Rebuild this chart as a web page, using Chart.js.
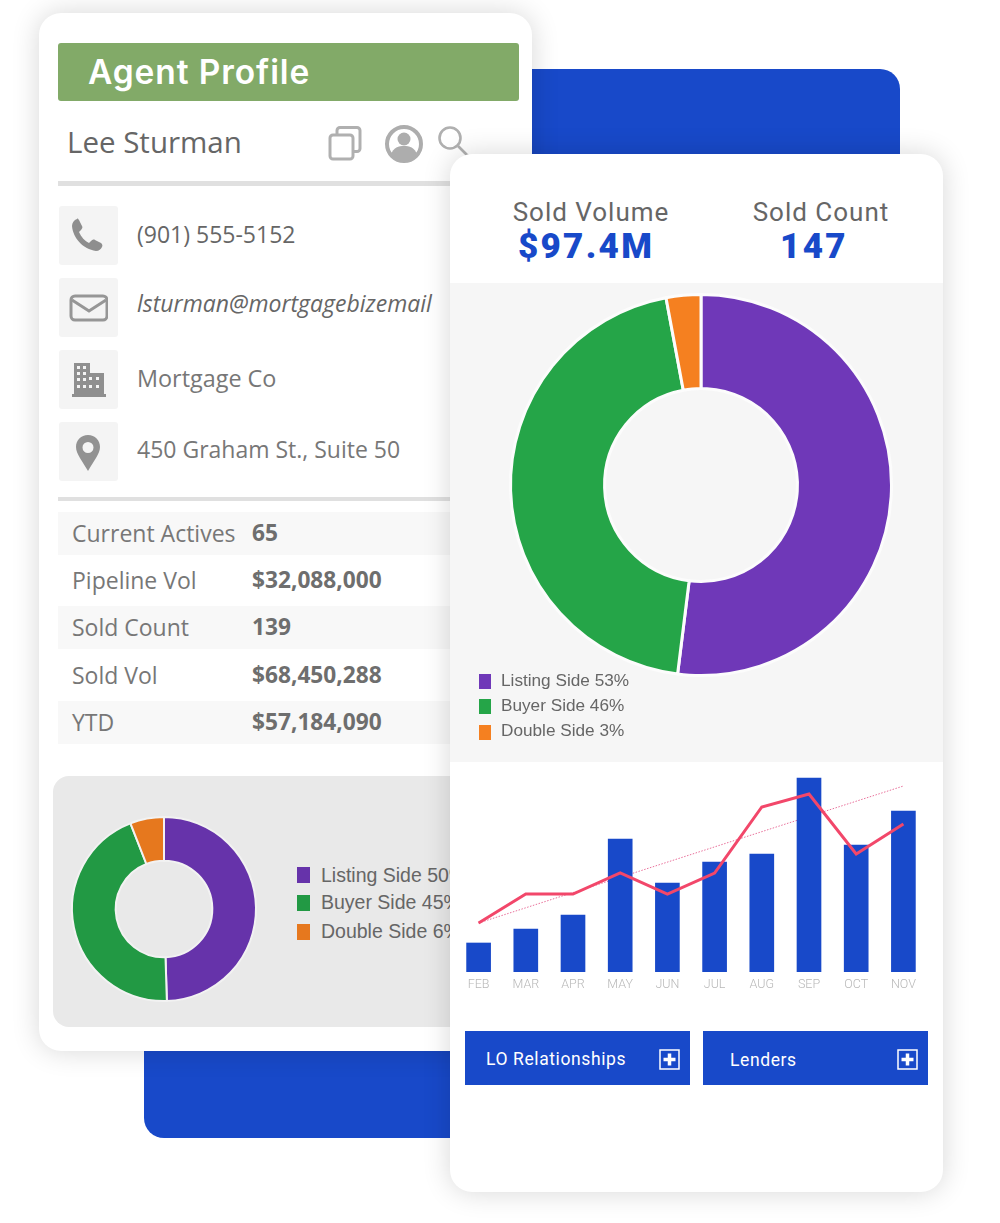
<!DOCTYPE html>
<html>
<head>
<meta charset="utf-8">
<title>Agent Profile</title>
<script src="https://cdn.jsdelivr.net/npm/chart.js@4"></script>
<style>
  html, body { margin: 0; padding: 0; background: #fff; }
  body { position: relative; width: 1000px; height: 1223px; overflow: hidden; color: #666; font-family: "Open Sans", sans-serif; }
  .abs { position: absolute; }
  .txt { position: absolute; white-space: nowrap; line-height: 1; }
  .card { position: absolute; width: 493px; height: 1038px; background: #fff; border-radius: 22px; box-shadow: 0 0 28px rgba(0,0,0,.16); overflow: hidden; }
  .tile { position: absolute; left: 20px; width: 59px; height: 59px; background: #f4f4f4; border-radius: 3px; }
  .tile svg { position: absolute; left: 10px; top: 10px; }
  .rule { position: absolute; left: 19px; width: 420px; background: #e0e0e0; }
  .row { position: absolute; left: 19px; width: 420px; height: 43px; }
  .key { position: absolute; white-space: nowrap; line-height: 1; left: 33px; font-size: 23px; color: #777; }
  .val { position: absolute; white-space: nowrap; line-height: 1; left: 213px; font-size: 22.700px; font-weight: 700; color: #6e6e6e; }
  .swatch { position: absolute; }
  .leg { position: absolute; white-space: nowrap; line-height: 1; font-family: "Liberation Sans", Arial, sans-serif; color: #666; }
  .head { position: absolute; white-space: nowrap; line-height: 1; font-family: Roboto, sans-serif; text-align: center; transform: translateX(-50%); }
  .btn { position: absolute; top: 877px; height: 54px; width: 225px; background: #1849c9; color: #fff; font-family: Roboto, sans-serif; font-size: 17.500px; letter-spacing: .6px; }
  .btn span { position: absolute; line-height: 1; white-space: nowrap; }
  .btn svg { position: absolute; left: 194px; top: 18px; }
  canvas { position: absolute; display: block; }
</style>
</head>
<body>

<div class="abs" style="left:144px;top:69px;width:756px;height:1069px;background:#1849c9;border-radius:20px"></div>

<!-- left card -->
<div class="card" id="leftCard" style="left:39px;top:13px">
  <div class="abs" style="left:19px;top:30px;width:461px;height:58px;background:#82aa68;border-radius:3px"></div>
  <div class="txt" style="left:49px;top:43px;font-family:Inter,sans-serif;font-weight:600;font-size:33.500px;color:#fff;letter-spacing:.9px">Agent Profile</div>
  <div class="txt" style="left:28px;top:114px;font-size:29.500px;color:#666">Lee Sturman</div>

  <svg class="abs" style="left:288px;top:112px" width="36" height="36" viewBox="0 0 36 36" fill="none" stroke="#b0b0b0" stroke-width="3">
    <rect x="10" y="2.5" width="23" height="24" rx="3"/>
    <rect x="3" y="10" width="23" height="24" rx="3" fill="#fff"/>
  </svg>
  <svg class="abs" style="left:345px;top:111px" width="40" height="40" viewBox="0 0 40 40">
    <circle cx="20" cy="20" r="17" fill="#fff" stroke="#adadad" stroke-width="4"/>
    <circle cx="20" cy="15" r="6.5" fill="#adadad"/>
    <path d="M7 31c2-8 8-9 13-9s11 1 13 9c-3 4-8 6-13 6s-10-2-13-6z" fill="#adadad"/>
  </svg>
  <svg class="abs" style="left:398px;top:112px" width="34" height="34" viewBox="0 0 34 34" fill="none" stroke="#b0b0b0" stroke-width="2.6">
    <circle cx="13" cy="13" r="10.5"/>
    <path d="M21 21l10 10"/>
  </svg>

  <div class="rule" style="top:168px;height:5px"></div>

  <div class="tile" style="top:193px"><svg width="39" height="39" viewBox="0 0 39 39"><path d="M8 3c-3 1-5 4-5 7 1 12 11 23 24 25 3 0 5-2 6-4 1-2 0-3-1-4l-6-3c-1-1-3 0-4 1l-2 2c-4-2-8-6-10-11l2-2c1-1 2-3 1-4l-3-6c-1-1-1-2-2-1z" fill="#8e8e8e"/></svg></div>
  <div class="tile" style="top:265px"><svg width="39" height="39" viewBox="0 0 39 39" fill="none" stroke="#969696" stroke-width="3"><rect x="2" y="8" width="36" height="24" rx="4"/><path d="M3 12l17 11 17-11"/></svg></div>
  <div class="tile" style="top:337px"><svg width="39" height="39" viewBox="0 0 39 39"><path d="M5 3h16v10h14v21h2v3H3v-3h2z" fill="#8f8f8f"/><g fill="#f4f4f4"><rect x="8" y="6" width="3" height="3"/><rect x="14" y="6" width="3" height="3"/><rect x="8" y="12" width="3" height="3"/><rect x="14" y="12" width="3" height="3"/><rect x="20" y="17" width="3" height="3"/><rect x="27" y="17" width="3" height="3"/><rect x="8" y="18" width="3" height="3"/><rect x="14" y="18" width="3" height="3"/><rect x="8" y="25" width="3" height="3"/><rect x="14" y="25" width="3" height="3"/><rect x="20" y="25" width="3" height="3"/><rect x="27" y="25" width="3" height="3"/></g></svg></div>
  <div class="tile" style="top:409px"><svg width="39" height="39" viewBox="0 0 39 39"><path fill-rule="evenodd" d="M19 3c7 0 12 5 12 12 0 7-7 15-12 24C14 30 7 22 7 15 7 8 12 3 19 3zm0 7a5.500 5.500 0 1 0 0 11 5.500 5.500 0 0 0 0-11z" fill="#929292"/></svg></div>

  <div class="txt" style="left:98px;top:210px;font-size:23px;color:#666">(901) 555-5152</div>
  <div class="txt" style="left:98px;top:279px;font-size:23px;color:#666;font-style:italic">lsturman@mortgagebizemail</div>
  <div class="txt" style="left:98px;top:354px;font-size:23.400px;color:#777">Mortgage Co</div>
  <div class="txt" style="left:98px;top:425px;font-size:23px;color:#777">450 Graham St., Suite 50</div>

  <div class="rule" style="top:484px;height:4px"></div>

  <div id="agentRows"></div>

  <div class="abs" style="left:14px;top:763px;width:470px;height:251px;background:#e9e9e9;border-radius:16px"></div>
  <canvas id="agentDonut" width="200" height="200" style="left:24.500px;top:795.500px"></canvas>
  <div id="agentLegend"></div>
</div>

<!-- right card -->
<div class="card" id="rightCard" style="left:450px;top:154px">
  <div class="head" style="left:141px;top:45px;font-size:26px;letter-spacing:1px;color:#666">Sold Volume</div>
  <div class="head" style="left:136px;top:75px;font-size:35px;font-weight:900;letter-spacing:2.300px;color:#1849c9">$97.4M</div>
  <div class="head" style="left:371px;top:45px;font-size:26px;letter-spacing:1px;color:#666">Sold Count</div>
  <div class="head" style="left:364px;top:75px;font-size:35px;font-weight:900;letter-spacing:2.300px;color:#1849c9">147</div>

  <div class="abs" style="left:0;top:129px;width:493px;height:479px;background:#f6f6f6"></div>
  <canvas id="soldDonut" width="400" height="400" style="left:50.500px;top:130.500px"></canvas>
  <div id="soldLegend"></div>

  <canvas id="trendChart" width="472" height="224" style="left:5px;top:618px"></canvas>

  <div class="btn" style="left:15px"><span style="left:21px;top:20px">LO Relationships</span>
    <svg width="21" height="21" viewBox="0 0 21 21"><rect x="1" y="1" width="19" height="19" fill="none" stroke="#fff" stroke-width="1.500"/><path d="M10.500 4.500v12M4.500 10.500h12" stroke="#fff" stroke-width="3.500"/></svg>
  </div>
  <div class="btn" style="left:253px"><span style="left:27px;top:21px">Lenders</span>
    <svg width="21" height="21" viewBox="0 0 21 21"><rect x="1" y="1" width="19" height="19" fill="none" stroke="#fff" stroke-width="1.500"/><path d="M10.500 4.500v12M4.500 10.500h12" stroke="#fff" stroke-width="3.500"/></svg>
  </div>
</div>

<script>
const months = ['FEB', 'MAR', 'APR', 'MAY', 'JUN', 'JUL', 'AUG', 'SEP', 'OCT', 'NOV'];
const barValues = [29, 43, 57, 133, 89, 110, 118, 194, 127, 161];
const lineValues = [49, 78, 78, 99, 78, 99, 165, 178, 118, 148];
const trendValues = [49, null, null, null, null, null, null, null, null, 186];

const sideLabels = ['Listing Side', 'Buyer Side', 'Double Side'];
const soldShares = [53, 46, 3];
const soldColors = ['#6f38b8', '#25a548', '#f58020'];
const agentShares = [50, 45, 6];
const agentColors = ['#6633aa', '#229944', '#e6781e'];

const rowLabels = ['Current Actives', 'Pipeline Vol', 'Sold Count', 'Sold Vol', 'YTD'];
const rowValues = ['65', '$32,088,000', '139', '$68,450,288', '$57,184,090'];

function renderRows() {
    const tops = [499, 546, 593, 640, 688];
    const textTops = [509, 556, 603, 651, 698];
    let html = '';
    rowLabels.forEach((label, i) => {
        const bg = i % 2 === 0 ? '#f8f8f8' : '#fff';
        html += `<div class="row" style="top:${tops[i]}px;background:${bg}"></div>`;
        html += `<div class="key" style="top:${textTops[i]}px">${label}</div>`;
        html += `<div class="val" style="top:${textTops[i]}px">${rowValues[i]}</div>`;
    });
    document.getElementById('agentRows').innerHTML = html;
}

function renderLegend(id, shares, colors, pos) {
    document.getElementById(id).innerHTML = sideLabels.map((label, i) => `
        <div class="swatch" style="left:${pos.x}px;top:${pos.tops[i]}px;width:${pos.w}px;height:${pos.h}px;background:${colors[i]}"></div>
        <div class="leg" style="left:${pos.textX}px;top:${pos.textTops[i]}px;font-size:${pos.size}px">${label} ${shares[i]}%</div>
    `).join('');
}

function drawDonut(id, shares, colors, radius, cutout, border, edge) {
    new Chart(document.getElementById(id), {
        type: 'doughnut',
        data: { labels: sideLabels, datasets: [{ data: shares, backgroundColor: colors, borderColor: edge, borderWidth: border }] },
        options: {
            responsive: false, animation: false, radius, cutout,
            plugins: { legend: { display: false }, tooltip: { enabled: false } }
        }
    });
}

function drawTrend() {
    new Chart(document.getElementById('trendChart'), {
        type: 'bar',
        data: {
            labels: months,
            datasets: [
                { type: 'line', data: lineValues, borderColor: '#f2476a', borderWidth: 3, pointRadius: 0, tension: 0, order: 0 },
                { type: 'bar', data: barValues, backgroundColor: '#1849c9', barThickness: 24, order: 1 },
                { type: 'line', data: trendValues, borderColor: '#e8709a', borderWidth: 1, borderDash: [1.5, 1.5], pointRadius: 0, spanGaps: true, order: 2 }
            ]
        },
        options: {
            responsive: false, animation: false,
            layout: { padding: 0 },
            plugins: { legend: { display: false }, tooltip: { enabled: false } },
            scales: {
                x: {
                    grid: { display: false, drawTicks: false }, border: { display: false },
                    ticks: { color: '#b8b8b8', font: { family: 'Roboto', size: 12.5, weight: '300' }, padding: 5, autoSkip: false, maxRotation: 0 },
                    afterFit: s => { s.height = 24; }
                },
                y: { display: false, min: 0, max: 200 }
            }
        }
    });
}

document.addEventListener('DOMContentLoaded', () => {
    renderRows();
    renderLegend('agentLegend', agentShares, agentColors, { x: 258, tops: [854, 882, 911], w: 13, h: 16, textX: 282, textTops: [853, 880, 909], size: 19.5 });
    renderLegend('soldLegend', soldShares, soldColors, { x: 29, tops: [520, 545, 571], w: 12, h: 15, textX: 51, textTops: [518, 543, 568], size: 17.2 });
    drawDonut('agentDonut', agentShares, agentColors, 92, 52, 2, '#f2f2f2');
    drawDonut('soldDonut', soldShares, soldColors, 190.5, 100.5, 3, '#fcfcfc');
    drawTrend();
});
</script>
</body>
</html>
